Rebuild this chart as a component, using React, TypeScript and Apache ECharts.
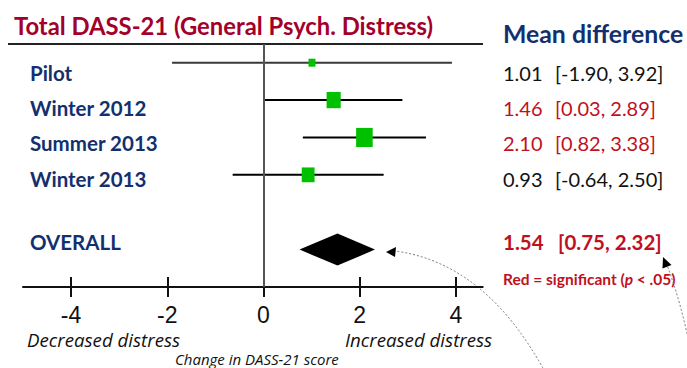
import React, { useEffect, useRef } from "react";
import * as echarts from "echarts";

const categories = ["Pilot", "Winter 2012", "Summer 2013", "Winter 2013"];
const means = [1.01, 1.46, 2.1, 0.93];
const lowers = [-1.9, 0.03, 0.82, -0.64];
const uppers = [3.92, 2.89, 3.38, 2.5];
const weights = [7, 29, 40, 24];
const significant = [false, true, true, false];
const overallLabel = "OVERALL";
const overallMean = 1.54;
const overallLower = 0.75;
const overallUpper = 2.32;
const overallRow = 5;
const xTicks = [-4, -2, 0, 2, 4];

const NAVY = "#12306e";
const RED = "#c0101e";
const TITLE_RED = "#a3002b";
const GREEN = "#00c000";

const fmt = (v: number) => v.toFixed(2);

export default function App() {
  const ref = useRef<HTMLDivElement>(null);
  useEffect(() => {
    if (!ref.current) return;
    const chart = echarts.init(ref.current, null, { renderer: "svg" });
    const studyData = categories.map((c, i) => [i, means[i], lowers[i], uppers[i], weights[i], significant[i] ? 1 : 0]);
    const option: any = {
      animation: false,
      grid: { left: 23, right: 204.3, top: 44, bottom: 81 },
      xAxis: [
        {
          type: "value",
          min: -5,
          max: 4.56,
          position: "bottom",
          splitLine: { show: false },
          axisLine: { show: true, onZero: false, lineStyle: { color: "#111", width: 2 } },
          axisTick: { show: true, customValues: xTicks, length: 10, lineStyle: { color: "#111", width: 2 } },
          axisLabel: {
            show: true,
            customValues: xTicks,
            margin: 16,
            fontFamily: "Liberation Sans",
            fontSize: 23,
            color: "#111",
          },
        },
        {
          type: "value",
          min: -5,
          max: 4.56,
          position: "bottom",
          offset: 0,
          splitLine: { show: false },
          axisLine: { show: false, onZero: false },
          axisTick: { show: true, inside: true, customValues: xTicks, length: 10, lineStyle: { color: "#111", width: 2 } },
          axisLabel: { show: false },
        },
      ],
      yAxis: {
        type: "value",
        min: -0.5,
        max: 6,
        inverse: true,
        show: false,
      },
      series: [
        {
          type: "custom",
          xAxisIndex: 0,
          data: studyData,
          encode: { x: [1, 2, 3], y: 0 },
          clip: false,
          renderItem: (params: any, api: any) => {
            const i = api.value(0);
            const m = api.value(1);
            const lo = api.value(2);
            const hi = api.value(3);
            const w = api.value(4);
            const sig = api.value(5) === 1;
            const pLo = api.coord([lo, i]);
            const pHi = api.coord([hi, i]);
            const pM = api.coord([m, i]);
            const side = Math.sqrt(w) * 2.85;
            const col = sig ? RED : "#111";
            const ty = pM[1] + 10 - 2.1 * i;
            return {
              type: "group",
              children: [
                {
                  type: "line",
                  shape: { x1: pLo[0], y1: pLo[1], x2: pHi[0], y2: pHi[1] },
                  style: { stroke: i === 0 ? "#3a3a3a" : "#000", lineWidth: 2 },
                },
                {
                  type: "rect",
                  shape: { x: pM[0] - side * 0.46, y: pM[1] - side * 0.53, width: side * 0.92, height: side * 1.06 },
                  style: { fill: GREEN },
                },
                {
                  type: "text",
                  style: {
                    x: 30, y: ty, text: categories[i], fill: NAVY,
                    font: "bold 20.5px Lato", align: "left", verticalAlign: "middle",
                  },
                },
                {
                  type: "text",
                  style: {
                    x: 503, y: ty, text: fmt(m), fill: col,
                    font: "20px Lato", align: "left", verticalAlign: "middle",
                  },
                },
                {
                  type: "text",
                  style: {
                    x: 555, y: ty, text: "[" + fmt(lo) + ", " + fmt(hi) + "]", fill: col,
                    font: "20px Lato", align: "left", verticalAlign: "middle",
                  },
                },
              ],
            };
          },
          markLine: {
            silent: true,
            symbol: ["none", "none"],
            label: { show: false },
            lineStyle: { color: "#555", width: 2, type: "solid" },
            data: [{ xAxis: 0 }],
          },
        },
        {
          type: "custom",
          xAxisIndex: 0,
          data: [[overallRow, overallMean, overallLower, overallUpper]],
          encode: { x: [1, 2, 3], y: 0 },
          clip: false,
          renderItem: (params: any, api: any) => {
            const r = api.value(0);
            const m = api.value(1);
            const lo = api.value(2);
            const hi = api.value(3);
            const pLo = api.coord([lo, r]);
            const pHi = api.coord([hi, r]);
            const pM = api.coord([m, r]);
            const h = 16;
            return {
              type: "group",
              children: [
                {
                  type: "polygon",
                  shape: { points: [[pLo[0], pM[1]], [pM[0], pM[1] - h], [pHi[0], pM[1]], [pM[0], pM[1] + h]] },
                  style: { fill: "#000" },
                },
                {
                  type: "text",
                  style: {
                    x: 30, y: pM[1] - 8, text: overallLabel, fill: NAVY,
                    font: "bold 20.5px Lato", align: "left", verticalAlign: "middle",
                  },
                },
                {
                  type: "text",
                  style: {
                    x: 503, y: pM[1] - 8, text: fmt(m), fill: RED,
                    font: "bold 20.5px Lato", align: "left", verticalAlign: "middle",
                  },
                },
                {
                  type: "text",
                  style: {
                    x: 558, y: pM[1] - 8, text: "[" + fmt(lo) + ", " + fmt(hi) + "]", fill: RED,
                    font: "bold 20.5px Lato", align: "left", verticalAlign: "middle",
                  },
                },
              ],
            };
          },
        },
      ],
      graphic: [
        {
          type: "text",
          left: 14,
          top: 14,
          style: { text: "Total DASS-21 (General Psych. Distress)", fill: TITLE_RED, font: "bold 23.8px Lato" },
        },
        {
          type: "line",
          shape: { x1: 8, y1: 44, x2: 483, y2: 44 },
          style: { stroke: "#222", lineWidth: 2 },
        },
        {
          type: "text",
          left: 503,
          top: 21,
          style: { text: "Mean difference", fill: NAVY, font: "bold 24.8px Lato" },
        },
        {
          type: "text",
          left: 503,
          top: 271,
          style: {
            text: "{a|Red = significant (}{b|p}{a| < .05)}",
            rich: {
              a: { fill: RED, font: "bold 15.5px Lato" },
              b: { fill: RED, font: "italic bold 15.5px Lato" },
            },
          },
        },
        {
          type: "text",
          left: 27,
          top: 330,
          style: { text: "Decreased distress", fill: "#111", font: "italic 18.7px 'Open Sans'" },
        },
        {
          type: "text",
          left: 345,
          top: 330,
          style: { text: "Increased distress", fill: "#111", font: "italic 18.7px 'Open Sans'" },
        },
        {
          type: "text",
          left: 175,
          top: 351,
          style: { text: "Change in DASS-21 score", fill: "#111", font: "italic 15px 'Open Sans'", lineHeight: 16 },
        },
        {
          type: "bezierCurve",
          shape: { x1: 545, y1: 372, x2: 395, y2: 251, cpx1: 486, cpy1: 263 },
          style: { stroke: "#777", lineWidth: 1, lineDash: [2, 2], fill: "none" },
        },
        {
          type: "polygon",
          shape: { points: [[386, 252], [396, 247], [395, 257]] },
          style: { fill: "#000" },
        },
        {
          type: "bezierCurve",
          shape: { x1: 688, y1: 338, x2: 667, y2: 265, cpx1: 680, cpy1: 300 },
          style: { stroke: "#777", lineWidth: 1, lineDash: [2, 2], fill: "none" },
        },
        {
          type: "polygon",
          shape: { points: [[663, 257], [671.5, 265], [662.5, 268.5]] },
          style: { fill: "#000" },
        },
      ],
    };
    chart.setOption(option);
    return () => chart.dispose();
  }, []);
  return <div ref={ref} style={{ width: 687, height: 368, position: "fixed", left: 0, top: 0, background: "#fff" }} />;
}
